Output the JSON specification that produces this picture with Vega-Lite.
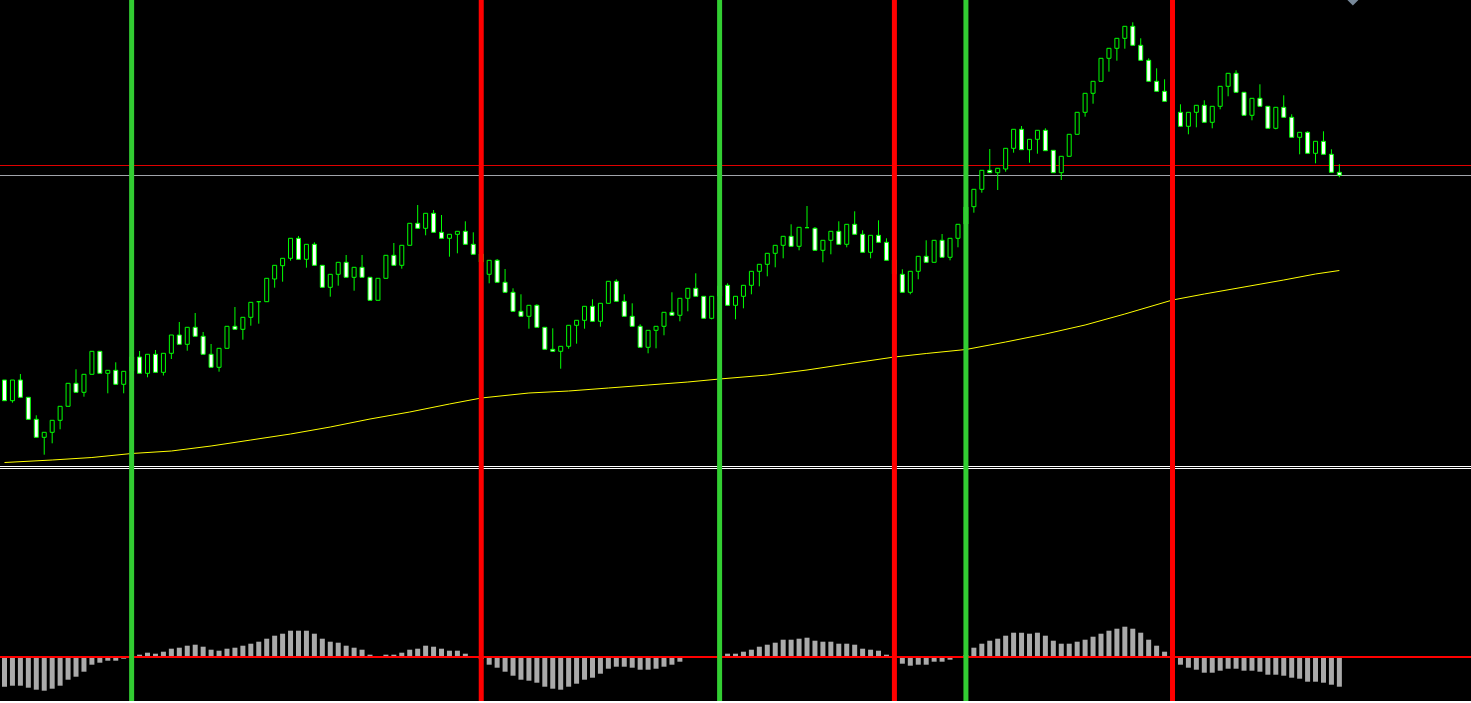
{
  "$schema": "https://vega.github.io/schema/vega-lite/v6.json",
  "background": "black",
  "padding": 0,
  "spacing": 0,
  "bounds": "flush",
  "config": {"view": {"stroke": null}, "concat": {"spacing": 0}},
  "datasets": {
    "candles": [
      {"i":-1,"o":86,"h":86,"l":65.3,"c":65.3,"hist":-29.7},
      {"i":0,"o":65.3,"h":86,"l":63.3,"c":86,"hist":-28.7},
      {"i":1,"o":86,"h":92,"l":68.7,"c":68.7,"hist":-28.7},
      {"i":2,"o":68.7,"h":68.7,"l":46.7,"c":46.7,"hist":-30.7},
      {"i":3,"o":46.7,"h":50.7,"l":28.7,"c":28.7,"hist":-32.7},
      {"i":4,"o":28.7,"h":33.7,"l":11.3,"c":33.7,"hist":-33.7},
      {"i":5,"o":33.7,"h":45.7,"l":22.7,"c":45.7,"hist":-31.7},
      {"i":6,"o":45.7,"h":59.7,"l":36.7,"c":59.7,"hist":-28.7},
      {"i":7,"o":59.7,"h":82.7,"l":59.7,"c":82.7,"hist":-22.7},
      {"i":8,"o":82.7,"h":96.7,"l":73.7,"c":73.7,"hist":-19.7},
      {"i":9,"o":73.7,"h":91.7,"l":69.3,"c":91.7,"hist":-14.7},
      {"i":10,"o":91.7,"h":114.7,"l":91.7,"c":114.7,"hist":-7.7},
      {"i":11,"o":114.7,"h":114.7,"l":92.7,"c":92.7,"hist":-5.7},
      {"i":12,"o":92.7,"h":95.7,"l":72.7,"c":95.7,"hist":-3.7},
      {"i":13,"o":95.7,"h":103.7,"l":81.7,"c":81.7,"hist":-3.7},
      {"i":14,"o":81.7,"h":94.7,"l":72.7,"c":94.7,"hist":-1.7},
      {"i":15,"o":95,"h":111,"l":93,"c":109,"hist":0.5},
      {"i":16,"o":109,"h":115,"l":92.7,"c":92.7,"hist":2.3},
      {"i":17,"o":92.7,"h":111.7,"l":88.7,"c":111.7,"hist":4.3},
      {"i":18,"o":111.7,"h":116,"l":93.7,"c":93.7,"hist":3.3},
      {"i":19,"o":93.7,"h":112.7,"l":90.5,"c":112.7,"hist":5.3},
      {"i":20,"o":112.7,"h":131,"l":107,"c":131,"hist":8.3},
      {"i":21,"o":131,"h":144,"l":121.7,"c":121.7,"hist":9.3},
      {"i":22,"o":121.7,"h":138.7,"l":115.3,"c":138.7,"hist":11.3},
      {"i":23,"o":138.7,"h":153,"l":129.7,"c":129.7,"hist":12.3},
      {"i":24,"o":129.7,"h":134,"l":111.7,"c":111.7,"hist":10.3},
      {"i":25,"o":111.7,"h":122,"l":98.7,"c":98.7,"hist":7.3},
      {"i":26,"o":98.7,"h":117.7,"l":94.3,"c":117.7,"hist":6.3},
      {"i":27,"o":117.7,"h":139.7,"l":117.7,"c":139.7,"hist":8.3},
      {"i":28,"o":139.7,"h":159,"l":136.7,"c":136.7,"hist":9.3},
      {"i":29,"o":136.7,"h":148.7,"l":126.3,"c":148.7,"hist":11.3},
      {"i":30,"o":148.7,"h":163.7,"l":140.3,"c":163.7,"hist":13.3},
      {"i":31,"o":164.3,"h":164.3,"l":142.3,"c":164.3,"hist":15.3},
      {"i":32,"o":164.3,"h":187.7,"l":164.3,"c":187.7,"hist":18.3},
      {"i":33,"o":187,"h":200.7,"l":178.3,"c":200.7,"hist":21.3},
      {"i":34,"o":200.3,"h":207.7,"l":184.3,"c":207.7,"hist":23.3},
      {"i":35,"o":207.7,"h":227.7,"l":205.3,"c":227.7,"hist":26.3},
      {"i":36,"o":227.7,"h":230,"l":206.7,"c":206.7,"hist":26.3},
      {"i":37,"o":206.7,"h":221.7,"l":198.3,"c":221.7,"hist":26.3},
      {"i":38,"o":221.7,"h":223.7,"l":200.7,"c":200.7,"hist":23.3},
      {"i":39,"o":200.7,"h":200.7,"l":178.7,"c":178.7,"hist":18.3},
      {"i":40,"o":178.7,"h":191.7,"l":169.3,"c":191.7,"hist":15.3},
      {"i":41,"o":191.7,"h":203.7,"l":180.3,"c":203.7,"hist":14.3},
      {"i":42,"o":203.7,"h":211,"l":188.7,"c":188.7,"hist":11.3},
      {"i":43,"o":188.7,"h":198.7,"l":175.3,"c":198.7,"hist":9.3},
      {"i":44,"o":198.7,"h":211,"l":188.7,"c":188.7,"hist":7.3},
      {"i":45,"o":188.7,"h":188.7,"l":165.7,"c":165.7,"hist":2.3},
      {"i":46,"o":165.7,"h":187.7,"l":165.7,"c":187.7,"hist":0.3},
      {"i":47,"o":187.7,"h":210.7,"l":187.7,"c":210.7,"hist":2.3},
      {"i":48,"o":210.7,"h":223,"l":200.7,"c":200.7,"hist":2.3},
      {"i":49,"o":200.7,"h":220.7,"l":197.3,"c":220.7,"hist":4.3},
      {"i":50,"o":220.7,"h":242.7,"l":220.7,"c":242.7,"hist":7.3},
      {"i":51,"o":242.7,"h":261,"l":237.7,"c":237.7,"hist":8.3},
      {"i":52,"o":237.7,"h":252.7,"l":230.7,"c":252.7,"hist":11.3},
      {"i":53,"o":252.7,"h":256,"l":233.7,"c":233.7,"hist":10.3},
      {"i":54,"o":233.7,"h":251,"l":227.7,"c":227.7,"hist":8.3},
      {"i":55,"o":227.7,"h":231.7,"l":209.3,"c":231.7,"hist":6.3},
      {"i":56,"o":231.7,"h":234.7,"l":212.7,"c":234.7,"hist":6.3},
      {"i":57,"o":234.7,"h":244.7,"l":221.7,"c":221.7,"hist":3.3},
      {"i":58,"o":221.7,"h":233.7,"l":211.7,"c":211.7,"hist":0.3},
      {"i":59,"o":212,"h":216,"l":204,"c":204,"hist":-2},
      {"i":60,"o":191.7,"h":205.7,"l":182.7,"c":205.7,"hist":-7.7},
      {"i":61,"o":205.7,"h":207,"l":183.7,"c":183.7,"hist":-10.7},
      {"i":62,"o":183.7,"h":197,"l":173.7,"c":173.7,"hist":-14.7},
      {"i":63,"o":173.7,"h":177.7,"l":154.7,"c":154.7,"hist":-18.7},
      {"i":64,"o":154.7,"h":171.7,"l":149.7,"c":149.7,"hist":-22.7},
      {"i":65,"o":149.7,"h":160.7,"l":137.3,"c":160.7,"hist":-23.7},
      {"i":66,"o":160.7,"h":161.7,"l":138.7,"c":138.7,"hist":-25.7},
      {"i":67,"o":138.7,"h":138.7,"l":116.7,"c":116.7,"hist":-29.7},
      {"i":68,"o":116.7,"h":137.7,"l":114.7,"c":114.7,"hist":-31.7},
      {"i":69,"o":114.7,"h":119.7,"l":97.3,"c":119.7,"hist":-32.7},
      {"i":70,"o":119.7,"h":140.7,"l":117.3,"c":140.7,"hist":-29.7},
      {"i":71,"o":140.7,"h":145.7,"l":122.3,"c":145.7,"hist":-26.7},
      {"i":72,"o":145.7,"h":159.7,"l":137.3,"c":159.7,"hist":-22.7},
      {"i":73,"o":159.7,"h":166.7,"l":144.7,"c":144.7,"hist":-20.7},
      {"i":74,"o":144.7,"h":162.7,"l":139.3,"c":162.7,"hist":-16.7},
      {"i":75,"o":162.7,"h":184.7,"l":162.7,"c":184.7,"hist":-11.7},
      {"i":76,"o":184.7,"h":186.7,"l":164.7,"c":164.7,"hist":-9.7},
      {"i":77,"o":164.7,"h":171.7,"l":149.7,"c":149.7,"hist":-9.7},
      {"i":78,"o":149.7,"h":162.7,"l":139.7,"c":139.7,"hist":-10.7},
      {"i":79,"o":139.7,"h":141.7,"l":118.7,"c":118.7,"hist":-12.7},
      {"i":80,"o":118.7,"h":135.7,"l":112.7,"c":135.7,"hist":-12.7},
      {"i":81,"o":135.7,"h":139.7,"l":117.7,"c":139.7,"hist":-11.7},
      {"i":82,"o":139.7,"h":153.7,"l":130.7,"c":153.7,"hist":-9.7},
      {"i":83,"o":153.7,"h":173.7,"l":150.7,"c":150.7,"hist":-7.7},
      {"i":84,"o":150.7,"h":167.7,"l":144.7,"c":167.7,"hist":-4.7},
      {"i":85,"o":167.7,"h":177.7,"l":154.7,"c":177.7,"hist":0},
      {"i":86,"o":177.7,"h":192.7,"l":169.7,"c":169.7,"hist":0},
      {"i":87,"o":169.7,"h":169.7,"l":147.7,"c":147.7,"hist":0},
      {"i":88,"o":147.7,"h":169.7,"l":146.7,"c":169.7,"hist":0},
      {"i":89,"o":170,"h":182,"l":166,"c":180,"hist":0.5},
      {"i":90,"o":180.7,"h":182.7,"l":160.7,"c":160.7,"hist":3.3},
      {"i":91,"o":160.7,"h":169.7,"l":146.7,"c":169.7,"hist":3.3},
      {"i":92,"o":169.7,"h":180.7,"l":157.7,"c":180.7,"hist":5.3},
      {"i":93,"o":180.7,"h":194.7,"l":171.7,"c":194.7,"hist":7.3},
      {"i":94,"o":194.7,"h":201.7,"l":179.7,"c":201.7,"hist":10.3},
      {"i":95,"o":201.7,"h":212.7,"l":189.7,"c":212.7,"hist":12.3},
      {"i":96,"o":212.7,"h":220.7,"l":198.7,"c":220.7,"hist":14.3},
      {"i":97,"o":220.7,"h":229.7,"l":207.7,"c":229.7,"hist":17.3},
      {"i":98,"o":229.7,"h":241.7,"l":219.7,"c":219.7,"hist":17.3},
      {"i":99,"o":219.7,"h":238.7,"l":215.7,"c":238.7,"hist":18.3},
      {"i":100,"o":238.3,"h":260,"l":238,"c":238.3,"hist":19.3},
      {"i":101,"o":237.7,"h":239,"l":215.7,"c":215.7,"hist":16.3},
      {"i":102,"o":215.7,"h":225.7,"l":203.7,"c":225.7,"hist":15.3},
      {"i":103,"o":225.7,"h":234.7,"l":211.7,"c":234.7,"hist":15.3},
      {"i":104,"o":234.7,"h":244.7,"l":221.7,"c":221.7,"hist":13.3},
      {"i":105,"o":221.7,"h":241.7,"l":218.7,"c":241.7,"hist":13.3},
      {"i":106,"o":241.7,"h":254.7,"l":231.7,"c":231.7,"hist":12.3},
      {"i":107,"o":231.7,"h":235.7,"l":213.7,"c":213.7,"hist":8.3},
      {"i":108,"o":213.7,"h":230.7,"l":207.7,"c":230.7,"hist":7.3},
      {"i":109,"o":230.7,"h":245.7,"l":223.7,"c":223.7,"hist":6.3},
      {"i":110,"o":223.7,"h":227.7,"l":205.7,"c":205.7,"hist":2.3},
      {"i":111,"o":206,"h":208,"l":192,"c":192,"hist":-1},
      {"i":112,"o":191.7,"h":196.7,"l":173.7,"c":173.7,"hist":-6.7},
      {"i":113,"o":173.7,"h":194.7,"l":171.7,"c":194.7,"hist":-8.7},
      {"i":114,"o":194.7,"h":209.7,"l":186.7,"c":209.7,"hist":-7.7},
      {"i":115,"o":209.7,"h":225.7,"l":203.7,"c":203.7,"hist":-7.7},
      {"i":116,"o":203.7,"h":225.7,"l":203.7,"c":225.7,"hist":-4.7},
      {"i":117,"o":225.7,"h":232,"l":208.7,"c":208.7,"hist":-4.7},
      {"i":118,"o":208.7,"h":227.7,"l":205.7,"c":227.7,"hist":-2.7},
      {"i":119,"o":227.7,"h":241.7,"l":218.7,"c":241.7,"hist":0},
      {"i":120,"o":242,"h":261,"l":240,"c":259,"hist":2},
      {"i":121,"o":259.3,"h":276.7,"l":253.3,"c":276.7,"hist":9.3},
      {"i":122,"o":276.7,"h":295.7,"l":273.3,"c":295.7,"hist":13.3},
      {"i":123,"o":295.7,"h":317,"l":293.3,"c":293.3,"hist":16.3},
      {"i":124,"o":293.3,"h":297.7,"l":276,"c":297.7,"hist":18.3},
      {"i":125,"o":297,"h":317.7,"l":294.3,"c":317.7,"hist":21.3},
      {"i":126,"o":317.7,"h":336.7,"l":313.3,"c":336.7,"hist":24.3},
      {"i":127,"o":336.7,"h":340,"l":316.3,"c":316.3,"hist":24.3},
      {"i":128,"o":316.3,"h":326.7,"l":303.3,"c":326.7,"hist":23.3},
      {"i":129,"o":326.7,"h":335.7,"l":312.3,"c":335.7,"hist":24.3},
      {"i":130,"o":335.7,"h":337.7,"l":315.3,"c":315.3,"hist":21.3},
      {"i":131,"o":315.7,"h":315.7,"l":293.3,"c":293.3,"hist":16.3},
      {"i":132,"o":293.3,"h":309.7,"l":286,"c":309.7,"hist":13.3},
      {"i":133,"o":309.7,"h":331.7,"l":309.7,"c":331.7,"hist":13.3},
      {"i":134,"o":331.7,"h":353.7,"l":331.7,"c":353.7,"hist":15.3},
      {"i":135,"o":353.7,"h":372.7,"l":349.3,"c":372.7,"hist":17.3},
      {"i":136,"o":372.7,"h":384.7,"l":362.3,"c":384.7,"hist":20.3},
      {"i":137,"o":384.7,"h":407.7,"l":384.7,"c":407.7,"hist":23.3},
      {"i":138,"o":407.7,"h":417.7,"l":394.3,"c":417.7,"hist":26.3},
      {"i":139,"o":417.7,"h":427.7,"l":405.3,"c":427.7,"hist":28.3},
      {"i":140,"o":427.7,"h":439.7,"l":417.3,"c":439.7,"hist":30.3},
      {"i":141,"o":439.7,"h":443.7,"l":420.7,"c":420.7,"hist":28.3},
      {"i":142,"o":420.7,"h":427.7,"l":405.7,"c":405.7,"hist":24.3},
      {"i":143,"o":405.7,"h":407.7,"l":384.7,"c":384.7,"hist":17.3},
      {"i":144,"o":384.7,"h":397.7,"l":374.7,"c":374.7,"hist":11.3},
      {"i":145,"o":374.7,"h":386.7,"l":364.7,"c":364.7,"hist":5.3},
      {"i":146,"o":365,"h":367,"l":354,"c":354,"hist":-2},
      {"i":147,"o":353.7,"h":361.7,"l":339.7,"c":339.7,"hist":-7.7},
      {"i":148,"o":339.7,"h":353.7,"l":331.7,"c":353.7,"hist":-10.7},
      {"i":149,"o":353.7,"h":360.7,"l":338.7,"c":360.7,"hist":-12.7},
      {"i":150,"o":360.7,"h":365.7,"l":343.7,"c":343.7,"hist":-15.7},
      {"i":151,"o":343.7,"h":359.7,"l":337.7,"c":359.7,"hist":-15.7},
      {"i":152,"o":359.7,"h":379.7,"l":356.7,"c":379.7,"hist":-13.7},
      {"i":153,"o":379.7,"h":392.7,"l":369.7,"c":392.7,"hist":-11.7},
      {"i":154,"o":392.7,"h":395.7,"l":373.7,"c":373.7,"hist":-11.7},
      {"i":155,"o":373.7,"h":373.7,"l":350.7,"c":350.7,"hist":-13.7},
      {"i":156,"o":350.7,"h":367.7,"l":345.7,"c":367.7,"hist":-13.7},
      {"i":157,"o":367.7,"h":381.7,"l":359.7,"c":359.7,"hist":-14.7},
      {"i":158,"o":359.7,"h":359.7,"l":337.7,"c":337.7,"hist":-17.7},
      {"i":159,"o":337.7,"h":358.7,"l":336.7,"c":358.7,"hist":-17.7},
      {"i":160,"o":358.7,"h":370.7,"l":348.7,"c":348.7,"hist":-18.7},
      {"i":161,"o":348.7,"h":351.7,"l":328.7,"c":328.7,"hist":-20.7},
      {"i":162,"o":328.7,"h":333.7,"l":311.7,"c":333.7,"hist":-21.7},
      {"i":163,"o":333.7,"h":334.7,"l":312.7,"c":312.7,"hist":-24.7},
      {"i":164,"o":312.7,"h":324.7,"l":302.7,"c":324.7,"hist":-24.7},
      {"i":165,"o":324.7,"h":334.7,"l":311.7,"c":311.7,"hist":-25.7},
      {"i":166,"o":311.7,"h":316.7,"l":293.7,"c":293.7,"hist":-27.7},
      {"i":167,"o":293.7,"h":301.7,"l":288.7,"c":290.7,"hist":-29.7}
    ],
    "ma": [
      {"i":-1,"ma":3.5},{"i":5,"ma":6},{"i":10,"ma":8.5},{"i":15,"ma":12.5},{"i":20,"ma":15},
      {"i":25,"ma":20},{"i":30,"ma":26},{"i":35,"ma":32},{"i":40,"ma":39},{"i":45,"ma":47},
      {"i":50,"ma":54},{"i":55,"ma":62},{"i":59,"ma":68},{"i":65,"ma":73},{"i":70,"ma":75},
      {"i":75,"ma":78},{"i":80,"ma":81},{"i":85,"ma":84},{"i":89,"ma":87},{"i":95,"ma":91},
      {"i":100,"ma":96},{"i":105,"ma":102},{"i":111,"ma":109},{"i":115,"ma":112.5},{"i":120,"ma":116.5},
      {"i":125,"ma":124},{"i":130,"ma":132},{"i":135,"ma":141},{"i":140,"ma":152},{"i":146,"ma":166},
      {"i":150,"ma":172},{"i":155,"ma":179},{"i":160,"ma":186},{"i":164,"ma":192},{"i":167,"ma":195.5}
    ],
    "signals": [
      {"i":15,"side":"buy"},{"i":59,"side":"sell"},{"i":89,"side":"buy"},
      {"i":111,"side":"sell"},{"i":120,"side":"buy"},{"i":146,"side":"sell"}
    ],
    "levels": [
      {"level":300.5,"name":"alert"},{"level":290.5,"name":"bid"}
    ],
    "marker": [{"i":168.7,"v":466}]
  },
  "vconcat": [
    {
      "width": 1471,
      "height": 466,
      "layer": [
        {
          "data": {"name": "levels"},
          "mark": {"type": "rule", "strokeWidth": 1, "clip": true},
          "encoding": {
            "y": {"field": "level", "type": "quantitative", "scale": {"domain": [0, 466], "nice": false, "zero": false}, "axis": null},
            "color": {"condition": {"test": "datum.name === 'alert'", "value": "#e00000"}, "value": "#a0a4aa"}
          }
        },
        {
          "data": {"name": "ma"},
          "mark": {"type": "line", "color": "#ffff00", "strokeWidth": 1, "clip": true},
          "encoding": {
            "x": {"field": "i", "type": "quantitative", "scale": {"domain": [-0.9375, 182.9375], "nice": false, "zero": false}, "axis": null},
            "y": {"field": "ma", "type": "quantitative", "scale": {"domain": [0, 466], "nice": false, "zero": false}, "axis": null}
          }
        },
        {
          "data": {"name": "candles"},
          "mark": {"type": "rule", "color": "#00ff00", "strokeWidth": 1, "clip": true},
          "encoding": {
            "x": {"field": "i", "type": "quantitative", "scale": {"domain": [-0.9375, 182.9375], "nice": false, "zero": false}, "axis": null},
            "y": {"field": "l", "type": "quantitative", "scale": {"domain": [0, 466], "nice": false, "zero": false}, "axis": null},
            "y2": {"field": "h"}
          }
        },
        {
          "data": {"name": "candles"},
          "mark": {"type": "bar", "size": 4, "stroke": "#00ff00", "strokeWidth": 1, "clip": true},
          "encoding": {
            "x": {"field": "i", "type": "quantitative", "scale": {"domain": [-0.9375, 182.9375], "nice": false, "zero": false}, "axis": null},
            "y": {"field": "o", "type": "quantitative", "scale": {"domain": [0, 466], "nice": false, "zero": false}, "axis": null},
            "y2": {"field": "c"},
            "fill": {"condition": {"test": "datum.c < datum.o", "value": "#ffffff"}, "value": "#000000"}
          }
        },
        {
          "data": {"name": "signals"},
          "mark": {"type": "rule", "strokeWidth": 5, "clip": true},
          "encoding": {
            "x": {"field": "i", "type": "quantitative", "scale": {"domain": [-0.9375, 182.9375], "nice": false, "zero": false}, "axis": null},
            "color": {"condition": {"test": "datum.side === 'buy'", "value": "#32cd32"}, "value": "#ff0000"}
          }
        },
        {
          "data": {"name": "marker"},
          "mark": {"type": "point", "shape": "diamond", "filled": true, "size": 121, "color": "#778899", "opacity": 1, "clip": true},
          "encoding": {
            "x": {"field": "i", "type": "quantitative", "scale": {"domain": [-0.9375, 182.9375], "nice": false, "zero": false}, "axis": null},
            "y": {"field": "v", "type": "quantitative", "scale": {"domain": [0, 466], "nice": false, "zero": false}, "axis": null}
          }
        }
      ]
    },
    {
      "width": 1471,
      "height": 235,
      "layer": [
        {
          "data": {"name": "candles"},
          "mark": {"type": "bar", "size": 5, "color": "#aaaaaa", "clip": true},
          "encoding": {
            "x": {"field": "i", "type": "quantitative", "scale": {"domain": [-0.9375, 182.9375], "nice": false, "zero": false},
                  "axis": {"values": [9, 25, 41, 57, 73, 89, 105, 121, 137, 153], "labels": false, "title": null, "grid": false, "domainColor": "#ffffff", "domainWidth": 1, "tickColor": "#ffffff", "tickSize": 2, "tickWidth": 1}},
            "y": {"field": "hist", "type": "quantitative", "scale": {"domain": [-44, 191], "nice": false, "zero": false}, "axis": null},
            "y2": {"datum": 0}
          }
        },
        {
          "data": {"name": "levels"},
          "mark": {"type": "rule", "color": "#ff0000", "strokeWidth": 2, "clip": true},
          "encoding": {
            "y": {"datum": 0, "type": "quantitative", "scale": {"domain": [-44, 191], "nice": false, "zero": false}, "axis": null}
          }
        },
        {
          "data": {"name": "levels"},
          "mark": {"type": "rule", "color": "#ffffff", "strokeWidth": 1, "clip": true},
          "encoding": {
            "y": {"datum": 190.5, "type": "quantitative", "scale": {"domain": [-44, 191], "nice": false, "zero": false}, "axis": null}
          }
        },
        {
          "data": {"name": "levels"},
          "mark": {"type": "rule", "color": "#ffffff", "strokeWidth": 1, "clip": true},
          "encoding": {
            "y": {"datum": 188.5, "type": "quantitative", "scale": {"domain": [-44, 191], "nice": false, "zero": false}, "axis": null}
          }
        },
        {
          "data": {"name": "signals"},
          "mark": {"type": "rule", "strokeWidth": 5, "clip": true},
          "encoding": {
            "x": {"field": "i", "type": "quantitative", "scale": {"domain": [-0.9375, 182.9375], "nice": false, "zero": false}, "axis": null},
            "color": {"condition": {"test": "datum.side === 'buy'", "value": "#32cd32"}, "value": "#ff0000"}
          }
        }
      ]
    }
  ]
}
